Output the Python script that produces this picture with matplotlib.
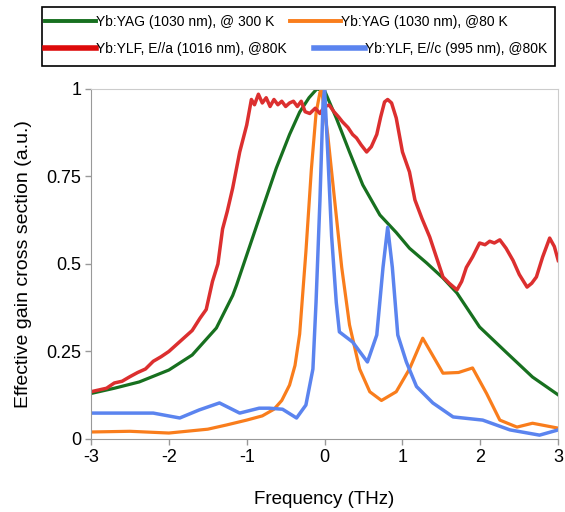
import matplotlib
matplotlib.use("Agg")
import matplotlib.pyplot as plt
from matplotlib.lines import Line2D
from matplotlib.patches import Rectangle

plt.rcParams['font.family'] = ['Liberation Sans', 'DejaVu Sans']

# Yb:YAG (1030 nm) @ 300 K
yag300_x = [-3.0, -2.7, -2.38, -2.0, -1.7, -1.39, -1.18, -1.13, -0.87, -0.62, -0.45, -0.32, -0.2,
            -0.1, 0.0, 0.15, 0.32, 0.49, 0.71, 0.92, 1.09, 1.31, 1.52, 1.70, 1.99, 2.34, 2.67, 3.0]
yag300_y = [0.13, 0.145, 0.163, 0.197, 0.24, 0.317, 0.41, 0.44, 0.611, 0.774, 0.87, 0.934, 0.975,
            1.0, 0.995, 0.917, 0.82, 0.726, 0.64, 0.59, 0.545, 0.503, 0.46, 0.417, 0.32, 0.246,
            0.177, 0.126]

# Yb:YAG (1030 nm) @ 80 K
yag80_x = [-3.0, -2.5, -2.0, -1.5, -1.26, -1.0, -0.8, -0.65, -0.55, -0.45, -0.38, -0.32, -0.24,
           -0.17, -0.11, -0.06, -0.04, 0.04, 0.13, 0.22, 0.32, 0.45, 0.58, 0.73, 0.92, 1.09, 1.26,
           1.52, 1.72, 1.90, 2.08, 2.25, 2.47, 2.67, 3.0]
yag80_y = [0.02, 0.022, 0.017, 0.028, 0.04, 0.054, 0.066, 0.085, 0.11, 0.154, 0.21, 0.30, 0.535,
           0.77, 0.93, 0.99, 1.0, 0.87, 0.68, 0.49, 0.326, 0.2, 0.135, 0.11, 0.135, 0.2, 0.288,
           0.188, 0.19, 0.203, 0.13, 0.054, 0.034, 0.045, 0.031]

# Yb:YLF E//a (1016 nm) @ 80 K
ylfa_x = [-3.0, -2.9, -2.8, -2.7, -2.6, -2.5, -2.4, -2.3, -2.2, -2.1, -2.0, -1.9, -1.8, -1.7,
          -1.6, -1.52, -1.44, -1.37, -1.31, -1.25, -1.18, -1.09, -1.0, -0.94, -0.9, -0.85, -0.8,
          -0.75, -0.7, -0.65, -0.6, -0.55, -0.5, -0.45, -0.4, -0.35, -0.3, -0.25, -0.19, -0.12,
          -0.06, 0.0, 0.06, 0.12, 0.18, 0.23, 0.3, 0.36, 0.41, 0.47, 0.54, 0.6, 0.67, 0.72, 0.77,
          0.81, 0.86, 0.92, 1.0, 1.09, 1.16, 1.25, 1.35, 1.45, 1.52, 1.6, 1.70, 1.76, 1.82, 1.9,
          1.99, 2.06, 2.12, 2.18, 2.25, 2.33, 2.42, 2.5, 2.60, 2.66, 2.72, 2.8, 2.89, 2.95, 3.0]
ylfa_y = [0.135, 0.14, 0.145, 0.16, 0.165, 0.178, 0.19, 0.2, 0.222, 0.235, 0.25, 0.27, 0.29, 0.31,
          0.345, 0.37, 0.45, 0.5, 0.6, 0.65, 0.717, 0.82, 0.897, 0.97, 0.955, 0.985, 0.96, 0.975,
          0.95, 0.97, 0.955, 0.965, 0.95, 0.96, 0.965, 0.95, 0.965, 0.935, 0.93, 0.945, 0.93, 0.95,
          0.954, 0.935, 0.92, 0.906, 0.89, 0.87, 0.86, 0.84, 0.82, 0.835, 0.87, 0.92, 0.963,
          0.97, 0.96, 0.917, 0.82, 0.763, 0.683, 0.63, 0.577, 0.51, 0.463, 0.445, 0.426, 0.45,
          0.49, 0.52, 0.56, 0.555, 0.565, 0.56, 0.569, 0.545, 0.51, 0.47, 0.434, 0.445, 0.463,
          0.52, 0.574, 0.55, 0.51]

# Yb:YLF E//c (995 nm) @ 80 K
ylfc_x = [-3.0, -2.6, -2.2, -1.86, -1.61, -1.35, -1.09, -0.84, -0.71, -0.54, -0.36, -0.24, -0.15,
          -0.11, -0.06, -0.02, 0.0, 0.04, 0.09, 0.15, 0.19, 0.36, 0.45, 0.55, 0.67, 0.75, 0.81,
          0.87, 0.94, 1.05, 1.18, 1.39, 1.65, 2.03, 2.38, 2.76, 3.0]
ylfc_y = [0.074, 0.074, 0.074, 0.06, 0.083, 0.103, 0.074, 0.088, 0.088, 0.085, 0.06, 0.097, 0.2,
          0.39, 0.68, 0.96, 1.0, 0.82, 0.58, 0.39, 0.306, 0.277, 0.25, 0.22, 0.297, 0.49, 0.605,
          0.49, 0.297, 0.22, 0.15, 0.103, 0.063, 0.054, 0.026, 0.011, 0.026]

labels = ["Yb:YAG (1030 nm), @ 300 K", "Yb:YAG (1030 nm), @80 K",
          "Yb:YLF, E//a (1016 nm), @80K", "Yb:YLF, E//c (995 nm), @80K"]
colors = ["#17701f", "#f97d1c", "#dc2f2f", "#5b84ef"]

W, H = 565, 512
fig = plt.figure(figsize=(W / 100, H / 100), dpi=100)
ax = fig.add_axes([0.161, 0.1426, 0.827, 0.6836])

ax.plot(yag300_x, yag300_y, color=colors[0], lw=2.3)
ax.plot(yag80_x, yag80_y, color=colors[1], lw=2.3)
ax.plot(ylfa_x, ylfa_y, color=colors[2], lw=2.5)
ax.plot(ylfc_x, ylfc_y, color=colors[3], lw=2.5)

ax.set_xlim(-3, 3)
ax.set_ylim(0, 1)
ax.set_xticks([-3, -2, -1, 0, 1, 2, 3])
ax.set_xticklabels(["-3", "-2", "-1", "0", "1", "2", "3"])
ax.set_yticks([0, 0.25, 0.5, 0.75, 1])
ax.set_yticklabels(["0", "0.25", "0.5", "0.75", "1"])
ax.tick_params(labelsize=13, color="#999999", length=4, width=1, pad=3)
for s in ax.spines.values():
    s.set_color("#cccccc")
ax.spines['left'].set_color("#999999")
ax.spines['bottom'].set_color("#999999")

ax.set_xlabel("Frequency (THz)", fontsize=13.5, labelpad=18)
ax.set_ylabel("Effective gain cross section (a.u.)", fontsize=14, labelpad=10)

# legend: box + two rows, each row its own legend (entries flow like in the original)
fig.add_artist(Rectangle((42 / W, 1 - 66 / H), 513 / W, 59 / H, transform=fig.transFigure,
                         fill=False, edgecolor="black", lw=1.2))
row1 = [Line2D([], [], color=colors[0], lw=2.8), Line2D([], [], color=colors[1], lw=2.8)]
row2 = [Line2D([], [], color="#dd0a0a", lw=4), Line2D([], [], color=colors[3], lw=4)]
common = dict(ncol=2, loc="center left", fontsize=10, frameon=False, handlelength=3.7,
              handletextpad=0.0, borderaxespad=0, borderpad=0)
leg1 = fig.legend(row1, labels[:2], bbox_to_anchor=(45 / W, 1 - 22 / H), columnspacing=1.1,
                  **common)
leg2 = fig.legend(row2, labels[2:], bbox_to_anchor=(45 / W, 1 - 49 / H), columnspacing=1.9,
                  **common)

fig.savefig("out.png", dpi=100)
